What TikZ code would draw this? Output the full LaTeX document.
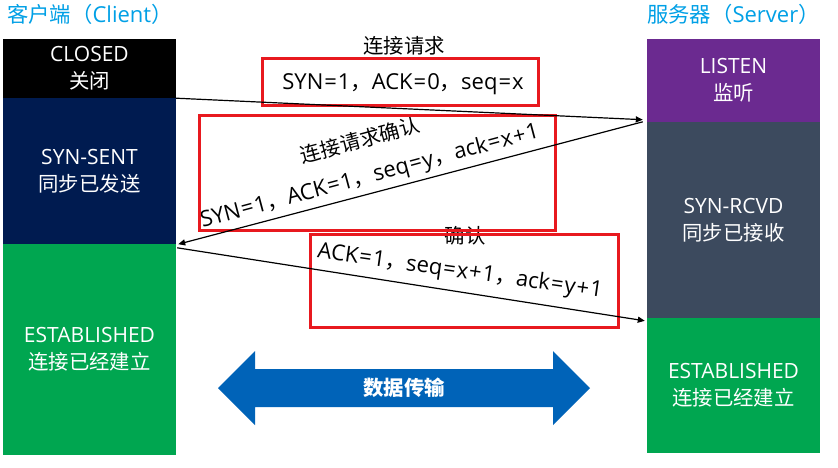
\documentclass[tikz,border=0pt]{standalone}
\usepackage{fontspec}
\setmainfont{Open Sans}
\newfontfamily\cjk{Noto Sans CJK SC}[Scale=0.97]
\usetikzlibrary{arrows.meta,calc}
\definecolor{cnavy}{HTML}{001B50}
\definecolor{cgreen}{HTML}{00A650}
\definecolor{cpurple}{HTML}{6B2A90}
\definecolor{cslate}{HTML}{3C4A5E}
\definecolor{ctitle}{HTML}{00A0E6}
\definecolor{cblue}{HTML}{0063B8}
\definecolor{cred}{HTML}{E8191F}
\newcommand{\cm}{{\cjk ，}}
\newcommand{\eq}{\kern1pt=\kern1pt}
\newcommand{\pl}{\kern1pt+\kern1pt}
\begin{document}
\begin{tikzpicture}[x=1pt,y=-1pt,
  statebox/.style={minimum width=173pt,inner sep=0pt,text=white,align=center,
    font=\fontsize{21}{27}\selectfont},
  titletext/.style={anchor=west,inner sep=0pt,text=ctitle,font=\fontsize{22}{24}\selectfont},
  redbox/.style={draw=cred,line width=3pt,inner sep=0pt},
  msg/.style={inner sep=0pt,font=\fontsize{22}{24}\selectfont},
  msgline/.style={line width=1.2pt,-{Triangle[length=7pt,width=6pt]}}]
\useasboundingbox (0,0) rectangle (838,467);
\fill[white] (0,0) rectangle (838,467);
% titles
\node[titletext] (ct) at (7,14) {{\cjk 客户端（}Client{\cjk ）}};
\node[titletext] (st) at (647,14) {{\cjk 服务器（}Server{\cjk ）}};
% client column
\node[statebox,fill=black,minimum height=59pt] (closed) at (89.5,68.5) {CLOSED\\{\cjk 关闭}};
\node[statebox,fill=cnavy,minimum height=146pt] (synsent) at (89.5,171) {SYN-SENT\\{\cjk 同步已发送}};
\node[statebox,fill=cgreen,minimum height=211pt] (est1) at (89.5,349.5) {ESTABLISHED\\{\cjk 连接已经建立}};
% server column
\node[statebox,fill=cpurple,minimum height=83pt] (listen) at (733.5,80.5) {LISTEN\\{\cjk 监听}};
\node[statebox,fill=cslate,minimum height=196pt] (synrcvd) at (733.5,220) {SYN-RCVD\\{\cjk 同步已接收}};
\node[statebox,fill=cgreen,minimum height=135pt] (est2) at (733.5,385.5) {ESTABLISHED\\{\cjk 连接已经建立}};
% message labels
\node[msg,font=\fontsize{21}{24}\selectfont] (l1) at (404,46) {\cjk 连接请求};
\node[msg] (m1) at (403,84) {SYN\eq 1\cm ACK\eq 0\cm seq\eq x};
\node[msg,rotate=15,font=\fontsize{21}{24}\selectfont] (l2) at (360,140) {\cjk 连接请求确认};
\node[msg,rotate=15] (m2) at (370,177) {SYN\eq 1\cm ACK\eq 1\cm seq\eq y\cm ack\eq x\pl 1};
\node[msg,font=\fontsize{21}{24}\selectfont] (l3) at (465,236) {\cjk 确认};
\node[msg,rotate=-8] (m3) at (460,272) {ACK\eq 1\cm seq\eq x\pl 1\cm ack\eq y\pl 1};
% red boxes
\node[redbox,minimum width=276pt,minimum height=47pt] (r1) at (400,82) {};
\node[redbox,minimum width=356pt,minimum height=115pt] (r2) at (377.5,172.5) {};
\node[redbox,minimum width=308pt,minimum height=93pt] (r3) at (464,281) {};
% connectors
\draw[msgline] (closed.south east) -- ([xshift=-4pt,yshift=2.5pt]listen.south west);
\draw[msgline] ([xshift=-4pt]synrcvd.north west) -- ([xshift=2pt]synsent.south east);
\draw[msgline] ([xshift=1pt,yshift=-4pt]est1.north east) -- ([xshift=-2pt,yshift=-3pt]est2.north west);
% data transfer arrow
\fill[cblue] (218,388) -- (255,351) -- (255,369) -- (553,369) -- (553,351) -- (590,388)
  -- (553,425) -- (553,407) -- (255,407) -- (255,425) -- cycle;
\node[msg,text=white,font=\fontsize{21}{24}\selectfont\cjk\bfseries] (data) at (404,388) {数据传输};
\end{tikzpicture}
\end{document}
